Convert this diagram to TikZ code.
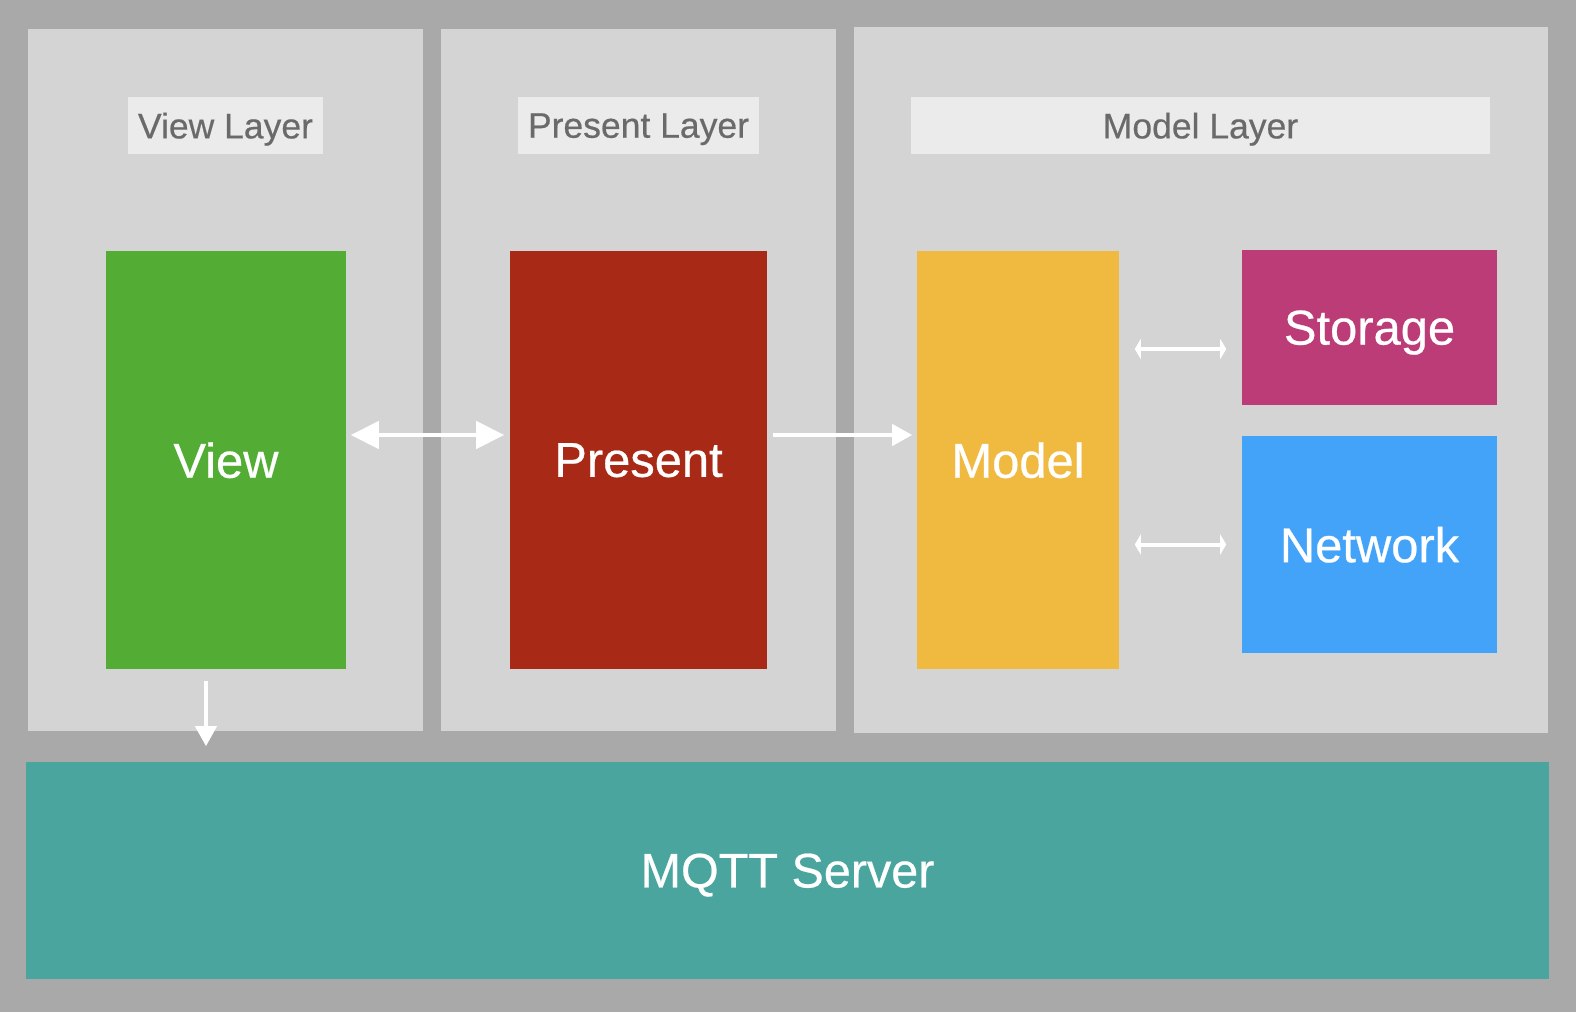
\documentclass[tikz,border=0pt]{standalone}
\usepackage{fontspec}
\setmainfont{Liberation Sans}
\newfontface\medfont{Liberation Sans}[FakeBold=0.5]
\usetikzlibrary{positioning, arrows.meta}
\definecolor{bggray}{HTML}{A9A9A9}
\definecolor{panelgray}{HTML}{D4D4D4}
\definecolor{titlegray}{HTML}{EBEBEB}
\definecolor{textgray}{HTML}{6A6A6A}
\definecolor{viewgreen}{HTML}{53AC34}
\definecolor{presentred}{HTML}{A72916}
\definecolor{modelyellow}{HTML}{F0BA41}
\definecolor{storagepink}{HTML}{BC3C78}
\definecolor{networkblue}{HTML}{42A3F9}
\definecolor{mqttteal}{HTML}{49A59E}

\begin{document}
\begin{tikzpicture}[
    x=0.01cm, y=-0.01cm,
    panel/.style={fill=panelgray, minimum height=7.02cm},
    title/.style={fill=titlegray, text=textgray, minimum height=0.57cm, font=\medfont\fontsize{10.1pt}{12pt}\selectfont},
    block/.style={text=white, minimum height=4.18cm, font=\medfont\fontsize{13.9pt}{16pt}\selectfont},
    arr/.style={-{Triangle[length=0.2cm, width=0.21cm]}, line width=0.04cm, white},
    bigarr/.style={{Triangle[length=0.28cm, width=0.27cm]}-{Triangle[length=0.28cm, width=0.27cm]}, line width=0.045cm, white},
    dbl/.style={{Triangle[length=0.06cm, width=0.2cm]}-{Triangle[length=0.06cm, width=0.2cm]}, line width=0.04cm, white},
    every node/.style={inner sep=0pt, text depth=-0.02cm}
]

% Background
\fill[bggray] (0,0) rectangle (1576,1012);

% Layers
\node[panel, minimum width=3.95cm] (viewlayer) at (225.5,380) {};
\node[panel, minimum width=3.95cm] (presentlayer) at (638.5,380) {};
\node[panel, minimum width=6.94cm, minimum height=7.06cm] (modellayer) at (1201,380) {};
\node[fill=mqttteal, text=white, minimum width=15.23cm, minimum height=2.17cm, font=\medfont\fontsize{13.8pt}{16pt}\selectfont] (mqtt) at (787.5,870.5) {MQTT Server};

% Titles
\node[title, minimum width=1.95cm] (viewtitle) at (225.5,125.5) {View Layer};
\node[title, minimum width=2.41cm] (presenttitle) at (638.5,125.5) {Present Layer};
\node[title, minimum width=5.79cm] (modeltitle) at (1200.5,125.5) {Model Layer};

% Blocks
\node[block, fill=viewgreen, minimum width=2.40cm] (view) at (226,460) {View};
\node[block, fill=presentred, minimum width=2.57cm] (present) at (638.5,460) {Present};
\node[block, fill=modelyellow, minimum width=2.02cm] (model) at (1018,460) {Model};
\node[block, fill=storagepink, minimum width=2.55cm, minimum height=1.55cm] (storage) at (1369.5,327.5) {Storage};
\node[block, fill=networkblue, minimum width=2.55cm, minimum height=2.17cm] (network) at (1369.5,544.5) {Network};

% Arrows
\draw[bigarr, shorten <=0.04cm, shorten >=0.05cm] ([yshift=0.25cm]view.east) -- ([yshift=0.25cm]present.west);
\draw[arr, shorten <=0.05cm, shorten >=0.04cm] ([yshift=0.25cm]present.east) -- ([yshift=0.25cm]model.west);
\coordinate (st) at ([yshift=-0.215cm]storage.west);
\draw[dbl, shorten <=0.15cm, shorten >=0.15cm] (model.east |- st) -- (st);
\draw[dbl, shorten <=0.15cm, shorten >=0.15cm] (model.east |- network.west) -- (network.west);
\coordinate (vs) at ([xshift=-0.2cm]view.south);
\draw[arr, shorten <=0.11cm, shorten >=0.15cm] (vs) -- (vs |- mqtt.north);

\end{tikzpicture}
\end{document}
